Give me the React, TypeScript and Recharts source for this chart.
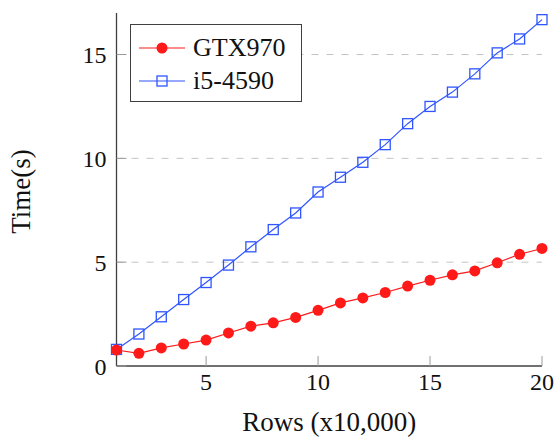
import { CartesianGrid, Legend, Line, LineChart, XAxis, YAxis } from "recharts";

const rows = [1, 2, 3, 4, 5, 6, 7, 8, 9, 10, 11, 12, 13, 14, 15, 16, 17, 18, 19, 20];
const gtx970 = [0.77, 0.61, 0.87, 1.06, 1.25, 1.59, 1.92, 2.08, 2.34, 2.68, 3.04, 3.28, 3.54, 3.85, 4.13, 4.39, 4.58, 4.97, 5.38, 5.66];
const i5_4590 = [0.8, 1.54, 2.37, 3.2, 4.02, 4.86, 5.74, 6.57, 7.37, 8.38, 9.09, 9.81, 10.66, 11.67, 12.5, 13.19, 14.07, 15.08, 15.75, 16.68];
const xTicks = [5, 10, 15, 20];
const yTicks = [0, 5, 10, 15];

const data = rows.map((r, i) => ({ rows: r, gtx: gtx970[i], i5: i5_4590[i] }));

const FONT = '"Liberation Serif", "Times New Roman", serif';
const RED = "#ff1a1a";
const BLUE = "#2f55ff";
const FRAME = "#404040";
const TICK = "#9a9a9a";

const tickText = { fontFamily: FONT, fontSize: 24, fill: "#111" };

function SquareDot(props: any) {
  const { cx, cy } = props;
  if (cx == null || cy == null) return null;
  return <rect x={cx - 5} y={cy - 5} width={10} height={10} fill="none" stroke={BLUE} strokeWidth={1.3} />;
}

function YTitle(props: any) {
  const vb = props.viewBox;
  const x = 21;
  const y = vb.y + vb.height / 2 + 2;
  return (
    <text x={x} y={y} transform={`rotate(-90 ${x} ${y})`} textAnchor="middle" dominantBaseline="central"
      fontFamily={FONT} fontSize={27} fill="#111">
      Time(s)
    </text>
  );
}

function XTitle(props: any) {
  const vb = props.viewBox;
  return (
    <text x={vb.x + vb.width / 2} y={vb.y + 65} textAnchor="middle" fontFamily={FONT} fontSize={27} fill="#111">
      Rows (x10,000)
    </text>
  );
}

function LegendBox() {
  const items = [
    { name: "GTX970", color: RED, square: false },
    { name: "i5-4590", color: BLUE, square: true },
  ];
  return (
    <div style={{ width: 172, height: 78, boxSizing: "border-box", border: `1.3px solid ${FRAME}`, background: "#fff", paddingTop: 6 }}>
      {items.map((it) => (
        <div key={it.name} style={{ display: "flex", alignItems: "center", height: 33 }}>
          <svg width={62} height={20} style={{ flex: "none" }}>
            <line x1={8} x2={54} y1={10} y2={10} stroke={it.color} strokeWidth={1.2} />
            {it.square ? (
              <rect x={26} y={5} width={10} height={10} fill="none" stroke={it.color} strokeWidth={1.3} />
            ) : (
              <circle cx={31} cy={10} r={5.5} fill={it.color} />
            )}
          </svg>
          <span style={{ fontFamily: FONT, fontSize: 26, color: "#111", lineHeight: 1 }}>{it.name}</span>
        </div>
      ))}
    </div>
  );
}

export default function App() {
  return (
    <div style={{ position: "absolute", left: 0, top: 0, width: 556, height: 438, background: "#fff" }}>
      <LineChart width={556} height={438} data={data} margin={{ top: 13, right: 14, bottom: 0, left: 0 }}>
        <CartesianGrid
          xAxisId="bottom"
          yAxisId="left"
          vertical={false}
          stroke="#c4c4c4"
          strokeDasharray="7 8"
          horizontalValues={[5, 10, 15]}
        />
        <XAxis
          xAxisId="bottom"
          dataKey="rows"
          type="number"
          domain={[1, 20]}
          ticks={xTicks}
          height={72}
          tickSize={-10}
          tickMargin={17}
          tickLine={{ stroke: TICK }}
          axisLine={{ stroke: FRAME, strokeWidth: 1.3 }}
          tick={tickText}
          label={<XTitle />}
        />
        <XAxis
          xAxisId="top"
          orientation="top"
          dataKey="rows"
          type="number"
          domain={[1, 20]}
          ticks={xTicks}
          height={0}
          tickSize={-10}
          tickLine={{ stroke: TICK }}
          axisLine={{ stroke: FRAME, strokeWidth: 1.3 }}
          tick={() => <g />}
        />
        <YAxis
          yAxisId="left"
          type="number"
          domain={[0, 17]}
          ticks={yTicks}
          width={116.5}
          tickSize={-10}
          tickMargin={20}
          tickLine={{ stroke: TICK }}
          axisLine={{ stroke: FRAME, strokeWidth: 1.3 }}
          tick={tickText}
          label={<YTitle />}
        />
        <YAxis
          yAxisId="right"
          orientation="right"
          type="number"
          domain={[0, 17]}
          ticks={yTicks}
          width={0}
          tickSize={-10}
          tickLine={{ stroke: TICK }}
          axisLine={{ stroke: FRAME, strokeWidth: 1.3 }}
          tick={() => <g />}
        />
        <Legend
          layout="horizontal"
          verticalAlign="middle"
          align="center"
          content={<LegendBox />}
          wrapperStyle={{ left: 130, top: 24, width: 172, height: 78 }}
        />
        <Line
          xAxisId="bottom"
          yAxisId="left"
          dataKey="i5"
          name="i5-4590"
          stroke={BLUE}
          strokeWidth={1.2}
          dot={<SquareDot />}
          isAnimationActive={false}
        />
        <Line
          xAxisId="bottom"
          yAxisId="left"
          dataKey="gtx"
          name="GTX970"
          stroke={RED}
          strokeWidth={1.2}
          dot={{ r: 5.5, fill: RED, stroke: "none" }}
          isAnimationActive={false}
        />
      </LineChart>
    </div>
  );
}
